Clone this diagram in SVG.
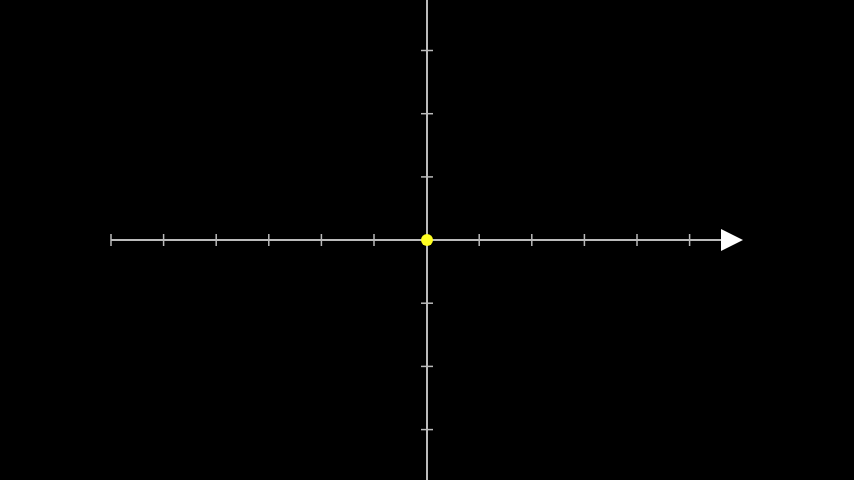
<svg xmlns="http://www.w3.org/2000/svg" width="854" height="480" viewBox="0 0 854 480">
<style>
.ax{stroke:#bbbbbb;stroke-width:2;fill:none}
.tk{stroke:#bbbbbb;stroke-width:1.5}
</style>
<rect width="854" height="480" fill="#000"/>
<g id="connectors">
<line class="ax" x1="111" y1="240" x2="725" y2="240"/>
<line class="ax" x1="427" y1="0" x2="427" y2="480"/>
<polygon points="721,229 743,240 721,251" fill="#fff"/>
<g class="tk">
<line x1="111" y1="234" x2="111" y2="246"/>
<line x1="163.6" y1="234" x2="163.6" y2="246"/>
<line x1="216.2" y1="234" x2="216.2" y2="246"/>
<line x1="268.8" y1="234" x2="268.8" y2="246"/>
<line x1="321.4" y1="234" x2="321.4" y2="246"/>
<line x1="374" y1="234" x2="374" y2="246"/>
<line x1="479.2" y1="234" x2="479.2" y2="246"/>
<line x1="531.8" y1="234" x2="531.8" y2="246"/>
<line x1="584.4" y1="234" x2="584.4" y2="246"/>
<line x1="637" y1="234" x2="637" y2="246"/>
<line x1="689.6" y1="234" x2="689.6" y2="246"/>
<line x1="421" y1="50.5" x2="433" y2="50.5"/>
<line x1="421" y1="113.7" x2="433" y2="113.7"/>
<line x1="421" y1="176.9" x2="433" y2="176.9"/>
<line x1="421" y1="303.2" x2="433" y2="303.2"/>
<line x1="421" y1="366.4" x2="433" y2="366.4"/>
<line x1="421" y1="429.6" x2="433" y2="429.6"/>
</g>
</g>
<g id="origin">
<circle cx="427" cy="240" r="6" fill="#ffff22"/>
</g>
</svg>
